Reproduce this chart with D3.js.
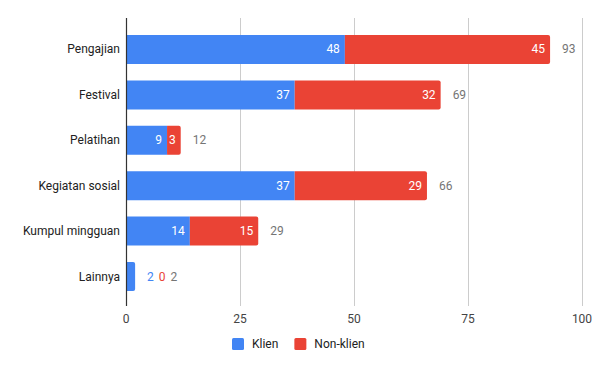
<!DOCTYPE html>
<html>
<head>
<meta charset="utf-8">
<script src="https://cdn.jsdelivr.net/npm/d3@7"></script>
<style>
  body { margin: 0; background: #fff; }
  text { font-family: Roboto, Arial, sans-serif; font-size: 12px; }
</style>
</head>
<body>
<div id="chart"></div>
<script>
// data
var categories = ["Pengajian", "Festival", "Pelatihan", "Kegiatan sosial", "Kumpul mingguan", "Lainnya"];
var klien = [48, 37, 9, 37, 14, 2];
var nonKlien = [45, 32, 3, 29, 15, 0];
var seriesNames = ["Klien", "Non-klien"];
var xTicks = [0, 25, 50, 75, 100];

var width = 600, height = 371;
var colors = ["#4285f4", "#ea4335"];

var svg = d3.select("#chart").append("svg")
    .attr("width", width)
    .attr("height", height);

var x = d3.scaleLinear().domain([0, 100]).range([126, 582]);
var y = d3.scaleBand().domain(categories).range([26.8, 299.2])
    .paddingInner(0.361).paddingOuter(0.18);

// gridlines
svg.append("g").selectAll("line")
    .data(xTicks.slice(1))
    .enter().append("line")
    .attr("x1", d => x(d) + 0.5).attr("x2", d => x(d) + 0.5)
    .attr("y1", 18).attr("y2", 306)
    .attr("stroke", "#cccccc");

// x tick labels
svg.append("g").selectAll("text")
    .data(xTicks)
    .enter().append("text")
    .attr("x", d => x(d))
    .attr("y", 323)
    .attr("text-anchor", "middle")
    .attr("fill", "#444")
    .text(d => d);

// category labels
svg.append("g").selectAll("text")
    .data(categories)
    .enter().append("text")
    .attr("x", 120)
    .attr("y", d => y(d) + y.bandwidth() / 2 + 4)
    .attr("text-anchor", "end")
    .attr("fill", "#222")
    .text(d => d);

var rows = categories.map(function(c, i) {
    return { cat: c, vals: [klien[i], nonKlien[i]], total: klien[i] + nonKlien[i] };
});

// rect with rounded right corners
function segPath(x0, x1, y0, h, r) {
    r = Math.min(r, (x1 - x0));
    return "M" + x0 + "," + y0 + "H" + (x1 - r) + "Q" + x1 + "," + y0 + " " + x1 + "," + (y0 + r) +
        "V" + (y0 + h - r) + "Q" + x1 + "," + (y0 + h) + " " + (x1 - r) + "," + (y0 + h) + "H" + x0 + "Z";
}

var bars = svg.append("g");
var labels = svg.append("g");

rows.forEach(function(r) {
    var y0 = y(r.cat), h = y.bandwidth(), cy = y0 + h / 2 + 4;
    var start = 0;
    var lastIdx = r.vals[1] > 0 ? 1 : 0;
    var outside = [];
    r.vals.forEach(function(v, k) {
        var xa = x(start), xb = x(start + v);
        if (v > 0) {
            bars.append("path")
                .attr("d", segPath(xa, xb, y0, h, k === lastIdx ? 2 : 0))
                .attr("fill", colors[k]);
        }
        var tw = String(v).length * 7;
        if (xb - xa >= tw + 6) {
            labels.append("text")
                .attr("x", xb - 5).attr("y", cy)
                .attr("text-anchor", "end")
                .attr("fill", "#fff")
                .text(v);
        } else {
            outside.push({ v: v, color: colors[k] });
        }
        start += v;
    });
    outside.push({ v: r.total, color: "#757575" });
    var cx = x(r.total) + 12;
    outside.forEach(function(o) {
        var t = labels.append("text")
            .attr("x", cx).attr("y", cy)
            .attr("fill", o.color)
            .text(o.v);
        cx += t.node().getComputedTextLength() + 5;
    });
});

// axis line at zero
svg.append("line")
    .attr("x1", x(0) + 0.5).attr("x2", x(0) + 0.5)
    .attr("y1", 18).attr("y2", 306)
    .attr("stroke", "#333").attr("stroke-width", 1.2);

// legend
var legend = svg.append("g");
var lx = 232;
seriesNames.forEach(function(s, i) {
    legend.append("rect")
        .attr("x", lx).attr("y", 338)
        .attr("width", 12).attr("height", 12)
        .attr("rx", 1.5)
        .attr("fill", colors[i]);
    var t = legend.append("text")
        .attr("x", lx + 20).attr("y", 348)
        .attr("fill", "#222")
        .text(s);
    lx += 20 + t.node().getComputedTextLength() + 16;
});
</script>
</body>
</html>
